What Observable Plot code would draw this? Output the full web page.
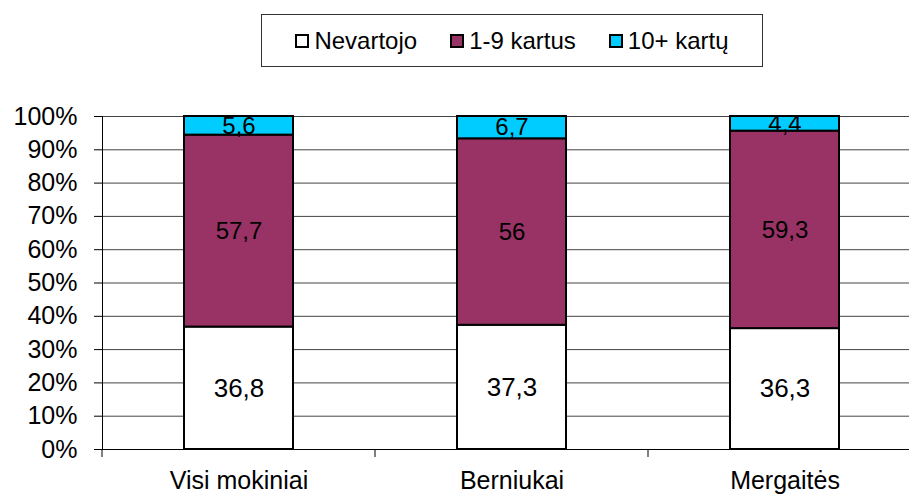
<!DOCTYPE html>
<html>
<head>
<meta charset="utf-8">
<script src="https://cdn.jsdelivr.net/npm/d3@7"></script>
<script src="https://cdn.jsdelivr.net/npm/@observablehq/plot@0.6"></script>
<style>
  html, body { margin: 0; padding: 0; background: #fff; }
  body { width: 909px; height: 495px; overflow: hidden; font-family: "Liberation Sans", Arial, sans-serif; color: #000; }
  #legend { position: relative; height: 80px; }
  #legend .box { position: absolute; left: 261px; top: 14px; width: 502px; height: 53px; box-sizing: border-box;
    border: 1px solid #333; display: flex; align-items: center; justify-content: center; gap: 33px; font-size: 24px; }
  #legend .item { display: flex; align-items: center; }
  #legend .sw { width: 14px; height: 14px; box-sizing: border-box; border: 2px solid #000; margin-right: 5px; }
  #chart svg { display: block; }
</style>
</head>
<body>
<div id="legend"><div class="box"></div></div>
<div id="chart"></div>
<script>
const categories = ["Visi mokiniai", "Berniukai", "Mergaitės"];
const series = ["Nevartojo", "1-9 kartus", "10+ kartų"];
const nevartojo = [36.8, 37.3, 36.3];
const kartus19 = [57.7, 56, 59.3];
const kartus10 = [5.6, 6.7, 4.4];
const yTickValues = [0, 10, 20, 30, 40, 50, 60, 70, 80, 90, 100];
const colors = ["#ffffff", "#993366", "#00ccff"];

const seriesValues = [nevartojo, kartus19, kartus10];
const data = categories.flatMap((cat, i) =>
  series.map((s, j) => ({cat, series: s, value: seriesValues[j][i]}))
);
const fmt = v => String(v).replace(".", ",");

// Legend
const box = d3.select("#legend .box");
series.forEach((s, j) => {
  const item = box.append("div").attr("class", "item");
  item.append("div").attr("class", "sw").style("background", colors[j]);
  item.append("span").text(s);
});

const plot = Plot.plot({
  width: 909,
  height: 415,
  marginTop: 36,
  marginBottom: 46,
  marginLeft: 102,
  marginRight: 0,
  style: {fontFamily: "'Liberation Sans', Arial, sans-serif", fontSize: "25px", color: "#000", background: "#fff"},
  x: {type: "band", domain: categories, range: [102, 922], paddingInner: 0.6, paddingOuter: 0.3,
      tickSize: 0, tickPadding: 22, label: null},
  y: {domain: [0, 1], ticks: yTickValues.map(d => d / 100), tickFormat: d => Math.round(d * 100) + "%",
      tickSize: 8, tickPadding: 17, label: null},
  color: {domain: series, range: colors},
  marks: [
    Plot.ruleY(yTickValues.slice(1), {y: d => d / 100, stroke: "#444", strokeWidth: 1}),
    Plot.barY(data, Plot.stackY({x: "cat", y: "value", offset: "normalize", fill: "series", stroke: "#000", strokeWidth: 2})),
    Plot.text(data, Plot.stackY({x: "cat", y: "value", offset: "normalize",
      text: d => d.series === series[0] ? fmt(d.value) : "", fontSize: 26, fill: "#000"})),
    Plot.text(data, Plot.stackY({x: "cat", y: "value", offset: "normalize",
      text: d => d.series !== series[0] ? fmt(d.value) : "", fontSize: 24, fill: "#000"})),
    Plot.ruleY([0], {stroke: "#000", strokeWidth: 1.2}),
    Plot.frame({anchor: "left", stroke: "#000"})
  ]
});
document.getElementById("chart").appendChild(plot);

// Category boundary tick marks below the x axis, positioned from the band scale
const xs = plot.scale("x");
const ys = plot.scale("y");
const y0 = ys.apply(0);
const start = xs.apply(categories[0]) - (xs.step - xs.bandwidth) / 2;
const svg = d3.select(plot);
for (let i = 0; i < categories.length; i++) {
  const bx = start + i * xs.step;
  svg.append("line").attr("x1", bx).attr("x2", bx).attr("y1", y0).attr("y2", y0 + 8)
    .attr("stroke", "#000").attr("stroke-width", 1);
}
</script>
</body>
</html>
